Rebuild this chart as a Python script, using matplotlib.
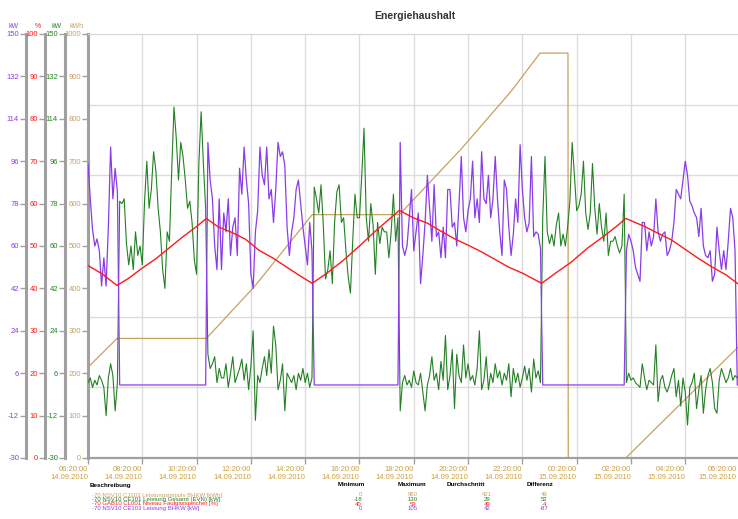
import numpy as np
import matplotlib
matplotlib.use('Agg')
import matplotlib.pyplot as plt

plt.rcParams['font.family'] = ['Liberation Sans', 'DejaVu Sans']
plt.rcParams['axes.unicode_minus'] = False

# colours of the four channels
c_bhkw = '#8a3ce6'
c_level = '#ff1a1a'
c_evn = '#238023'
c_kwh = '#c8a060'

# 5 minute samples from 06:20 14.09.2010 (hours since start)
bhkw_on_a = [95, 80, 67, 60, 63, 58, 43, 55, 43, 68, 102, 80, 93, 83]
bhkw_on_b = [104, 88, 80, 60, 50, 80, 50, 74, 66, 80, 56, 68, 72, 56, 93, 82, 102, 88, 78, 48,
             42, 66, 75, 102, 90, 86, 102, 80, 84, 70, 84, 104, 98, 100, 94, 68, 56, 66, 72, 84,
             88, 78, 68, 60, 52, 70, 58]
bhkw_on_c = [104, 60, 56, 60, 72, 84, 58, 66, 74, 44, 56, 70, 90, 76, 62, 86, 64, 66, 55, 68,
             55, 84, 84, 68, 70, 60, 78, 98, 72, 66, 75, 80, 96, 72, 80, 70, 100, 80, 78, 90,
             72, 80, 98, 80, 66, 56, 88, 84, 68, 56, 65, 80, 70, 103, 84, 72, 66, 70, 98, 64,
             66, 65, 59]
bhkw_on_d = [58, 65, 62, 58, 51, 48, 45, 70, 70, 58, 66, 60, 64, 80, 66, 62, 65, 66, 56, 58,
             62, 70, 84, 82, 80, 88, 96, 90, 79, 77, 74, 72, 64, 76, 60, 56, 55, 58, 45, 48,
             68, 58, 50, 58, 50, 62, 76, 72, 58]
bhkw_kw = (bhkw_on_a + [1] * 39 + bhkw_on_b + [1] * 38 + bhkw_on_c + [1] * 37
           + bhkw_on_d + [1, 1])

evn_kw = [2, 4, 0, 3, 1, 5, 3, 0, -12, 4, 10, 5, -10, 2,
          79, 78, 80, 61, 52, 60, 50, 66, 56, 60, 52, 79, 96, 76, 84, 100, 92, 76, 66, 50,
          42, 66, 62, 92, 119, 106, 88, 104, 98, 88, 76, 79, 70, 54, 48, 95, 117, 95, 76,
          14, 8, 10, 13, 2, 8, 4, 4, 10, 0, 6, 13, 2, 5, 8, 12, 3, 10, -1, 9,
          24, -14, 5, 2, 8, 13, 5, 16, 6, 26, 18, -1, 3, 10, -10, 6, 4, 2, 5, -1,
          6, 3, 8, 2, 6, 0, 4,
          85, 80, 74, 86, 69, 46, 50, 58, 44, 70, 83, 86, 70, 72, 58, 47, 40, 62, 82, 72,
          72, 90, 110, 72, 62, 78, 69, 48, 70, 61, 68, 66, 66, 55, 66, 82, 62, 72,
          -10, 2, 5, 1, 3, 0, 7, 2, 1, 6, -2, -10, 1, 5, 13, 3, 6, -1, 11, 3,
          22, -1, 5, 16, -9, 14, 5, 2, 18, 4, 10, 3, 5, 1, 8, 24, -1, 3, 13, -1,
          6, 2, 10, 4, 7, 1, 6, 3, 10, -4, 8, 2, 6, 0, 4, 9, 3, 8, -2, 12, 4, 7, 2,
          72, 98, 66, 61, 65, 60, 69, 74, 60, 65, 60, 68, 79, 104, 90, 75, 77, 82, 96, 74,
          67, 74, 95, 76, 65, 78, 68, 62, 74, 56, 62, 62, 64, 60, 57, 60, 82,
          2, 6, 3, 4, 2, 1, 0, 10, 4, -1, 3, 2, 1, 18, -6, 3, 5, 0, -2, 1,
          5, 8, -4, 3, -8, 4, -2, -16, 0, 2, 6, -9, -1, 5, -11, -1, 5, 8, 2, -9,
          -11, 3, 8, 5, 2, 4, 8, 3, 5, 4, 6]
t5 = np.arange(len(evn_kw)) / 12.0

level_t = [0, 0.5, 1.07, 1.5, 2.0, 2.5, 3.0, 3.5, 4.0, 4.36, 4.8, 5.3, 5.8, 6.3, 6.8, 7.3,
           7.8, 8.26, 8.8, 9.4, 10.0, 10.6, 11.0, 11.47, 12.0, 12.5, 13.0, 13.5, 14.0, 14.5,
           15.0, 15.5, 16.0, 16.71, 17.2, 17.8, 18.4, 19.0, 19.5, 19.81, 20.5, 21.0, 21.5,
           22.0, 22.5, 23.0, 23.5, 24.0]
level_pct = [45.4, 43.5, 40.7, 42.4, 44.8, 47.0, 49.6, 52.2, 54.6, 56.5, 54.5, 53.2, 51.6,
             49.0, 47.2, 45.1, 43.0, 41.2, 43.6, 46.6, 50.0, 53.6, 55.8, 58.4, 56.6, 55.4,
             53.5, 51.7, 50.2, 48.6, 46.8, 45.0, 43.6, 41.2, 43.5, 46.2, 49.5, 52.3, 54.8,
             56.5, 54.6, 53.0, 51.4, 49.2, 47.0, 45.0, 43.2, 40.8]

kwh_t = [0, 1.07, 4.36, 6.14, 8.26, 11.47, 13.75, 15.6, 16.65, 17.68, 17.69, 19.81, 24.0]
kwh_v = [214, 282, 282, 405, 574, 574, 729, 866, 955, 955, 0, 0, 265]

x_labels = ['06:20:00\n14.09.2010', '08:20:00\n14.09.2010', '10:20:00\n14.09.2010',
            '12:20:00\n14.09.2010', '14:20:00\n14.09.2010', '16:20:00\n14.09.2010',
            '18:20:00\n14.09.2010', '20:20:00\n14.09.2010', '22:20:00\n14.09.2010',
            '00:20:00\n15.09.2010', '02:20:00\n15.09.2010', '04:20:00\n15.09.2010',
            '06:20:00\n15.09.2010']

legend_names = ['-70 NSV10 CJ103 Leistungsimpuls BHKW [kWh]',
                '-70 NSV10 CE101 Leistung Gesamt (EVN) [kW]',
                '-70 GAB10 CL001 Niveau Faulgasspeicher [%]',
                '-70 NSV10 CE103 Leistung BHKW [kW]']
legend_min = ['0', '-18', '40', '0']
legend_max = ['960', '130', '59', '105']
legend_avg = ['421', '29', '49', '42']
legend_diff = ['49', '52', '-4', '-87']
legend_colors = [c_kwh, c_evn, c_level, c_bhkw]

W, H = 738, 519
fig = plt.figure(figsize=(W / 100, H / 100), dpi=100)
ax = fig.add_axes([88 / W, 1 - 458 / H, (742 - 88) / W, (458 - 34) / H])

gray = '#a0a0a0'
xcol = '#c8a040'
ax.set_xlim(0, 24.09)
ax.set_ylim(0, 1000)
ax.set_yticks(range(0, 1001, 100))
ax.set_yticks(np.linspace(0, 1000, 7), minor=True)
ax.set_xticks(range(0, 25, 2))
# last label is drawn by hand so it stays inside the picture
ax.set_xticklabels(x_labels[:-1] + [''])
for lbl in ax.get_xticklabels():
    lbl.set_ha('right')
ax.annotate(x_labels[-1], xy=(24, 0), xycoords=('data', 'axes fraction'),
            xytext=(-2, -6), textcoords='offset points', ha='right', va='top',
            fontsize=5.5, color=xcol)
ax.grid(axis='x', color='#dcdcdc', lw=1)
ax.grid(axis='y', which='minor', color='#dcdcdc', lw=1)
ax.tick_params(axis='y', which='minor', length=0)
ax.tick_params(axis='y', length=4, width=1, color=gray, labelsize=5.5,
               labelcolor=c_kwh, pad=1)
ax.tick_params(axis='x', length=4, width=1, color=gray, labelsize=5.5,
               labelcolor=xcol, pad=2)
ax.spines['left'].set_color(gray)
ax.spines['left'].set_linewidth(2.2)
ax.spines['bottom'].set_color(gray)
ax.spines['bottom'].set_linewidth(1.6)
ax.spines['top'].set_color('#d4d4d4')
ax.spines['right'].set_visible(False)
ax.set_axisbelow(True)
ax.plot(kwh_t, kwh_v, color=c_kwh, lw=0.9)


def side_axis(pos, color, lo, hi, step):
    a = ax.twinx()
    a.set_ylim(lo, hi)
    a.set_yticks(np.arange(lo, hi + 0.1, step))
    a.yaxis.set_ticks_position('left')
    a.spines['left'].set_position(('axes', pos))
    a.spines['left'].set_visible(True)
    a.spines['left'].set_color(gray)
    a.spines['left'].set_linewidth(2.2)
    for s in ['right', 'top', 'bottom']:
        a.spines[s].set_visible(False)
    a.tick_params(axis='y', length=4, width=1, color=gray, labelsize=5.5,
                  labelcolor=color, pad=1)
    return a


ax_evn = side_axis((65 - 88) / 654, c_evn, -30, 150, 18)
ax_bhkw = side_axis((26 - 88) / 654, c_bhkw, -30, 150, 18)
ax_level = side_axis((45 - 88) / 654, c_level, 0, 100, 10)

ax_evn.plot(t5, evn_kw, color=c_evn, lw=0.8)
ax_bhkw.plot(t5, bhkw_kw, color=c_bhkw, lw=0.9)
ax_level.plot(level_t, level_pct, color=c_level, lw=1.0)

# unit labels above the axes
for x, txt, col in [(14, 'kW', c_bhkw), (38, '%', c_level), (57, 'kW', c_evn), (77, 'kWh', c_kwh)]:
    fig.text(x / W, 1 - 27 / H, txt, color=col, fontsize=5, ha='center', va='center')

fig.text(415 / W, 1 - 16 / H, 'Energiehaushalt', fontsize=7.5, fontweight='bold',
         ha='center', va='center', color='#333333')

# description table
fig.text(90 / W, 1 - 485 / H, 'Beschreibung', fontsize=4.5, fontweight='bold', va='center')
for x, txt in [(351, 'Minimum'), (412, 'Maximum'), (466, 'Durchschnitt'), (540, 'Differenz')]:
    fig.text(x / W, 1 - 485 / H, txt, fontsize=4.5, fontweight='bold', ha='center', va='center')
rows_y = [495, 499.5, 504, 508.5]
for i in range(4):
    y = 1 - rows_y[i] / H
    col = legend_colors[i]
    fig.text(92 / W, y, legend_names[i], fontsize=4.3, color=col, va='center')
    fig.text(362 / W, y, legend_min[i], fontsize=4.3, color=col, va='center', ha='right')
    fig.text(413 / W, y, legend_max[i], fontsize=4.3, color=col, va='center', ha='center')
    fig.text(487 / W, y, legend_avg[i], fontsize=4.3, color=col, va='center', ha='center')
    fig.text(544 / W, y, legend_diff[i], fontsize=4.3, color=col, va='center', ha='center')

fig.savefig('out.png', dpi=100)
